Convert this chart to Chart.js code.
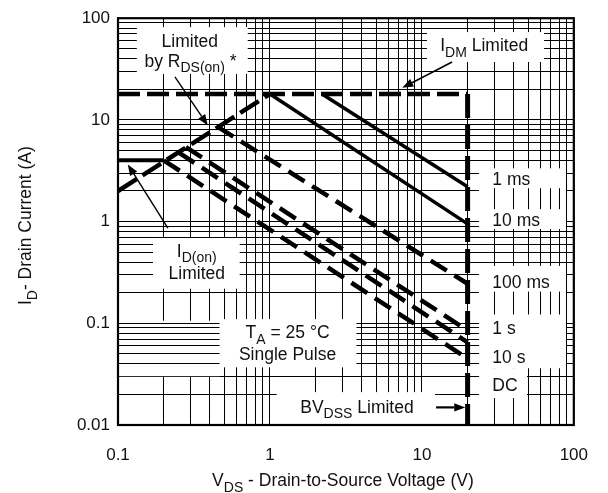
<!DOCTYPE html>
<html><head><meta charset="utf-8">
<script src="https://cdn.jsdelivr.net/npm/chart.js@4.4.1/dist/chart.umd.min.js"></script>
<style>html,body{margin:0;padding:0;background:#fff;}#wrap{width:608px;height:493px;position:relative;}</style>
</head><body><div id="wrap"><canvas id="c"></canvas></div>
<script>
// ---------- data (V = drain-source volts, I = drain amps) ----------
const xTickLabels = ['0.1', '1', '10', '100'];
const yTickLabels = ['0.01', '0.1', '1', '10', '100'];
const idmLimit   = [[0.1, 18], [20, 18]];
const bvdssLimit = [[20, 18], [20, 0.01]];
const idOnLimit  = [[0.1, 4], [0.2, 4]];
const rdsLimit   = [[0.1, 2], [1, 18]];
const curve1ms   = [[2.2, 18], [20, 2.2]];
const curve10ms  = [[1, 18], [20, 0.95]];
const curve100ms = [[0.45, 8.6], [20, 0.245]];
const curve1s    = [[0.28, 5.4], [20, 0.085]];
const curve10s   = [[0.25, 4.8], [20, 0.065]];
const curveDC    = [[0.2, 4], [20, 0.045]];

// ---------- layout / styling ----------
const FONT = "'Liberation Sans', Arial, Helvetica, sans-serif";
const TXT = '#111';
const ANN = 17.5;

const toPts = a => a.map(p => ({x: p[0], y: p[1]}));
function ds(pts, w, dash) {
  return {data: toPts(pts), showLine: true, pointRadius: 0, borderColor: '#000',
          borderWidth: w, borderDash: dash || [], borderCapStyle: 'butt', fill: false, tension: 0};
}

function gridValues(lo, hi) {
  const out = [];
  for (let e = Math.round(Math.log10(lo)); e < Math.round(Math.log10(hi)); e++)
    for (let m = 1; m < 10; m++) out.push(+(m * Math.pow(10, e)).toPrecision(3));
  out.push(hi);
  return out;
}
function labelFor(list, v) {
  for (const l of list) if (Math.abs(parseFloat(l) - v) / v < 1e-6) return l;
  return '';
}

// white label boxes: v range, i range, mode ('all' hides grid, 'h' keeps vertical grid, 'v' keeps horizontal grid)
const boxes = [
  {v: [0.133, 0.714], i: [28.3, 81.7], mode: 'all'},
  {v: [10.8, 63.7], i: [37.1, 73], mode: 'all'},
  {v: [0.170, 0.632], i: [0.219, 0.690], mode: 'all'},
  {v: [0.1, 0.467], i: [0.0302, 0.106], mode: 'v'},
  {v: [0.467, 3.71], i: [0.0369, 0.110], mode: 'all'},
  {v: [1.107, 12.2], i: [0.01, 0.02105], mode: 'all'},
  {v: [23.8, 88.7], i: [0.845, 3.34], mode: 'all'},
  {v: [23.8, 88.7], i: [1.325, 2.13], mode: 'h'},
  {v: [23.8, 88.7], i: [0.0361, 0.367], mode: 'all'},
  {v: [23.8, 88.7], i: [0.122, 0.205], mode: 'h'},
  {v: [23.8, 49.2], i: [0.0184, 0.0361], mode: 'all'}
];

const S = t => ({t, sub: true});
const N = t => ({t});
const texts = [
  {parts: [N('Limited')], v: 0.297, i: 59.6, align: 'center'},
  {parts: [N('by R'), S('DS(on)'), N(' *')], v: 0.30, i: 38.0, align: 'center'},
  {parts: [N('I'), S('DM'), N(' Limited')], v: 25.7, i: 54.5, align: 'center'},
  {parts: [N('I'), S('D(on)')], v: 0.330, i: 0.515, align: 'center'},
  {parts: [N('Limited')], v: 0.330, i: 0.317, align: 'center'},
  {parts: [N('T'), S('A'), N(' = 25 °C')], v: 1.306, i: 0.082, align: 'center'},
  {parts: [N('Single Pulse')], v: 1.306, i: 0.050, align: 'center'},
  {parts: [N('BV'), S('DSS'), N(' Limited')], v: 3.74, i: 0.0152, align: 'center'},
  {parts: [N('1 ms')], v: 29.1, i: 2.63, align: 'left'},
  {parts: [N('10 ms')], v: 29.1, i: 1.047, align: 'left'},
  {parts: [N('100 ms')], v: 29.1, i: 0.256, align: 'left'},
  {parts: [N('1 s')], v: 29.1, i: 0.090, align: 'left'},
  {parts: [N('10 s')], v: 29.1, i: 0.0468, align: 'left'},
  {parts: [N('DC')], v: 29.1, i: 0.0249, align: 'left'}
];
const arrows = [
  {from: [0.237, 26.5], to: [0.39, 8.8], w: 1.4},
  {from: [15.8, 37.1], to: [7.43, 20.7], w: 1.6},
  {from: [0.213, 0.863], to: [0.116, 3.65], w: 1.4},
  {from: [12.4, 0.0149], to: [19.3, 0.0149], w: 2.2}
];

function fontOf(s) { return s.toFixed(1) + 'px ' + FONT; }
function drawRich(ctx, parts, x, y, size, align) {
  let w = 0;
  for (const p of parts) { ctx.font = fontOf(p.sub ? size * 0.8 : size); w += ctx.measureText(p.t).width; }
  const sx = align === 'left' ? x : (align === 'right' ? x - w : x - w / 2);
  ctx.save();
  ctx.translate(sx, y + size * 0.358);
  ctx.textAlign = 'left'; ctx.textBaseline = 'alphabetic'; ctx.fillStyle = TXT;
  let cx = 0;
  for (const p of parts) {
    const s = p.sub ? size * 0.8 : size;
    ctx.font = fontOf(s);
    ctx.fillText(p.t, cx, p.sub ? size * 0.3 : 0);
    cx += ctx.measureText(p.t).width;
  }
  ctx.restore();
}

function align(ch, p) { const d = ch.currentDevicePixelRatio || 1; return Math.round((p - 0.5) * d) / d + 0.5; }

const overlay = {
  id: 'overlay',
  beforeDatasetsDraw(ch) {
    const ctx = ch.ctx, xs = ch.scales.x, ys = ch.scales.y;
    ctx.save();
    for (const b of boxes) {
      const x1 = xs.getPixelForValue(b.v[0]), x2 = xs.getPixelForValue(b.v[1]);
      const y1 = ys.getPixelForValue(b.i[1]), y2 = ys.getPixelForValue(b.i[0]);
      ctx.fillStyle = '#fff';
      ctx.fillRect(x1, y1, x2 - x1, y2 - y1);
      ctx.strokeStyle = '#000'; ctx.lineWidth = 1;
      if (b.mode === 'h') {
        for (const t of xs.ticks) {
          if (t.value > b.v[0] * 1.001 && t.value < b.v[1] * 0.999) {
            const x = align(ch, xs.getPixelForValue(t.value));
            ctx.beginPath(); ctx.moveTo(x, y1); ctx.lineTo(x, y2); ctx.stroke();
          }
        }
      } else if (b.mode === 'v') {
        for (const t of ys.ticks) {
          if (t.value >= b.i[0] && t.value <= b.i[1]) {
            const y = align(ch, ys.getPixelForValue(t.value));
            ctx.beginPath(); ctx.moveTo(x1, y); ctx.lineTo(x2, y); ctx.stroke();
          }
        }
      }
    }
    ctx.restore();
  },
  afterDatasetsDraw(ch) {
    const ctx = ch.ctx, xs = ch.scales.x, ys = ch.scales.y, a = ch.chartArea;
    ctx.save();
    ctx.strokeStyle = '#000'; ctx.lineWidth = 2.2;
    ctx.strokeRect(a.left, a.top, a.right - a.left, a.bottom - a.top);
    for (const t of texts) drawRich(ctx, t.parts, xs.getPixelForValue(t.v), ys.getPixelForValue(t.i), ANN, t.align);
    for (const ar of arrows) {
      const x1 = xs.getPixelForValue(ar.from[0]), y1 = ys.getPixelForValue(ar.from[1]);
      const x2 = xs.getPixelForValue(ar.to[0]), y2 = ys.getPixelForValue(ar.to[1]);
      const ang = Math.atan2(y2 - y1, x2 - x1), L = 11, H = 4.2;
      const bx = x2 - L * Math.cos(ang), by = y2 - L * Math.sin(ang);
      ctx.lineWidth = ar.w; ctx.strokeStyle = '#000'; ctx.fillStyle = '#000';
      ctx.beginPath(); ctx.moveTo(x1, y1); ctx.lineTo(bx, by); ctx.stroke();
      ctx.beginPath(); ctx.moveTo(x2, y2);
      ctx.lineTo(bx + H * Math.sin(ang), by - H * Math.cos(ang));
      ctx.lineTo(bx - H * Math.sin(ang), by + H * Math.cos(ang));
      ctx.closePath(); ctx.fill();
    }
    // axis titles
    drawRich(ctx, [N('V'), S('DS'), N(' - Drain-to-Source Voltage (V)')], (a.left + a.right) / 2 - 3, 480, 17.5, 'center');
    ctx.save();
    ctx.translate(25, (a.top + a.bottom) / 2 + 4);
    ctx.rotate(-Math.PI / 2);
    drawRich(ctx, [N('I'), S('D'), N('- Drain Current (A)')], 0, 0, 17.5, 'center');
    ctx.restore();
    ctx.restore();
  }
};

new Chart(document.getElementById('c'), {
  type: 'scatter',
  data: {
    datasets: [
      ds(idmLimit, 4.5, [22, 7]),
      ds(bvdssLimit, 5, [24, 7]),
      ds(idOnLimit, 4, []),
      ds(rdsLimit, 4.5, [22, 7]),
      ds(curve1ms, 3.5, []),
      ds(curve10ms, 3.5, []),
      ds(curve100ms, 4.5, [19, 9]),
      ds(curve1s, 4.5, [19, 9]),
      ds(curve10s, 4.5, [19, 9]),
      ds(curveDC, 4.5, [19, 9])
    ]
  },
  options: {
    responsive: true, maintainAspectRatio: false, animation: false,
    layout: {padding: {left: 0, top: 16, right: 33, bottom: 0}},
    plugins: {legend: {display: false}, tooltip: {enabled: false}, title: {display: false}},
    scales: {
      x: {
        type: 'logarithmic', position: 'bottom', min: 0.1, max: 100,
        afterBuildTicks: s => { s.ticks = gridValues(0.1, 100).map(v => ({value: v})); },
        afterFit: s => { s.height = 68; },
        ticks: {autoSkip: false, maxRotation: 0, minRotation: 0, padding: 20, color: TXT,
                font: {family: FONT, size: 17}, callback: v => labelFor(xTickLabels, v)},
        grid: {color: '#000', lineWidth: 1, drawTicks: false},
        border: {display: false},
        title: {display: false}
      },
      y: {
        type: 'logarithmic', position: 'left', min: 0.01, max: 100,
        afterBuildTicks: s => { s.ticks = gridValues(0.01, 100).map(v => ({value: v})); },
        afterFit: s => { s.width = 118; },
        ticks: {autoSkip: false, padding: 8, color: TXT,
                font: {family: FONT, size: 17}, callback: v => labelFor(yTickLabels, v)},
        grid: {color: '#000', lineWidth: 1, drawTicks: false},
        border: {display: false},
        title: {display: false}
      }
    }
  },
  plugins: [overlay]
});
</script></body></html>
